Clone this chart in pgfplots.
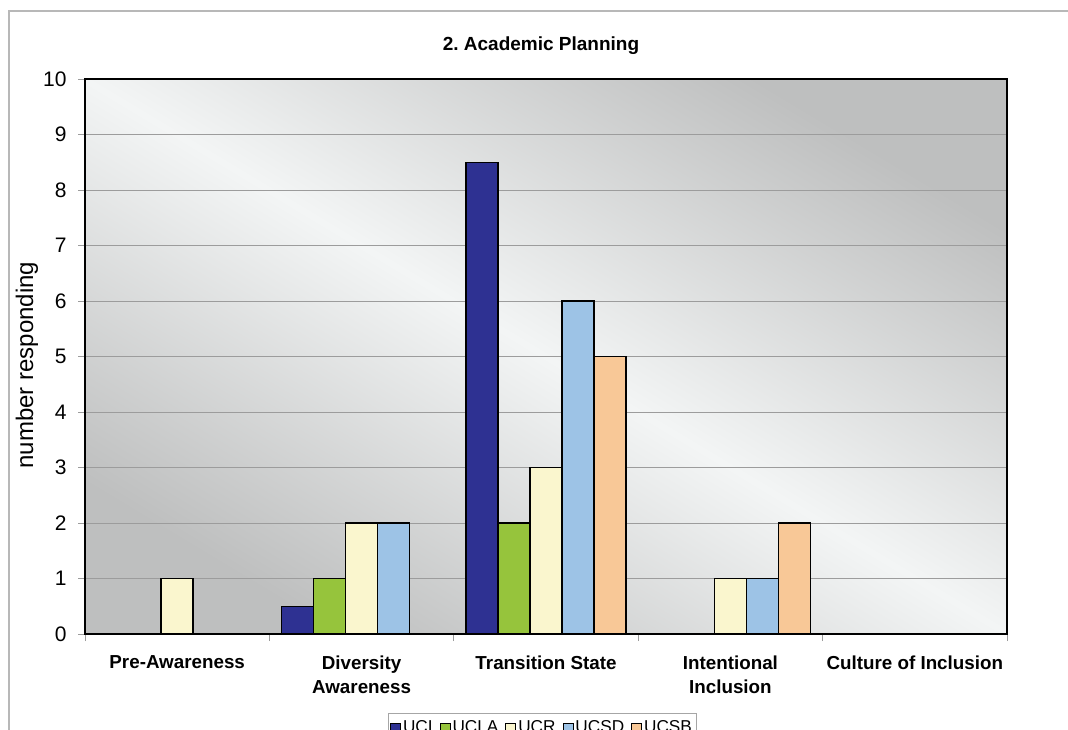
\documentclass[border=0pt]{standalone}
\usepackage{pgfplots}
\pgfplotsset{compat=1.18}
\usepackage{fontspec}
\setmainfont{Liberation Sans}
\frenchspacing
\definecolor{cUCI}{HTML}{2E3192}
\definecolor{cUCLA}{HTML}{96C43C}
\definecolor{cUCR}{HTML}{FAF6CE}
\definecolor{cUCSD}{HTML}{9DC3E6}
\definecolor{cUCSB}{HTML}{F8C897}
\definecolor{bgdark}{HTML}{BEBFBF}
\definecolor{bglight}{HTML}{F3F5F5}
\definecolor{gridc}{HTML}{9C9C9C}
\definecolor{framec}{HTML}{B8B8B8}
\begin{document}
\begin{tikzpicture}
\useasboundingbox (0pt,0pt) rectangle (1068pt,-730pt);
\clip (0pt,0pt) rectangle (1068pt,-730pt);
\fill[white] (0pt,0pt) rectangle (1068pt,-730pt);
\draw[framec, line width=1.2pt] (9pt,-800pt) -- (9pt,-11pt) -- (1100pt,-11pt);
\begin{axis}[
  at={(85pt,-634pt)}, anchor=south west,
  scale only axis, width=922pt, height=555pt,
  xmin=-0.5, xmax=4.5, ymin=0, ymax=10,
  ytick={0,...,10},
  xtick={0,...,4},
  xtick pos=bottom, ytick pos=left,
  xticklabels={Pre-Awareness,{Diversity\\Awareness},Transition State,{Intentional\\Inclusion},Culture of Inclusion},
  xticklabel style={align=center, font=\fontsize{18.8}{24}\selectfont\bfseries, yshift=-11pt},
  yticklabel style={font=\fontsize{21}{24}\selectfont, xshift=-8pt},
  /pgf/number format/assume math mode=true,
  minor xtick={-0.5,0.5,...,4.5},
  major x tick style={draw=none},
  tick align=outside,
  major tick length=7pt, minor tick length=7pt,
  every tick/.style={gridc, line width=0.8pt},
  ymajorgrids,
  grid style={gridc, line width=0.8pt},
  axis line style={black, line width=1.6pt},
  axis background/.style={shade, left color=bgdark, right color=bgdark, middle color=bglight, shading angle=149},
  ybar=0pt, bar width=32pt,
  every axis plot/.append style={draw=black, line width=1.5pt},
  title={2. Academic Planning},
  every axis title/.style={at={(axis description cs:0.5,1)}, anchor=center, yshift=33pt, xshift=-5pt, font=\fontsize{19}{22}\selectfont\bfseries},
  ylabel={number responding},
  every axis y label/.style={at={([xshift=-58pt,yshift=-8.5pt]axis description cs:0,0.5)}, rotate=90, anchor=center, font=\fontsize{24}{28}\selectfont},
  legend columns=-1,
  legend style={at={(axis description cs:0.5,0)}, anchor=north, yshift=-79pt, xshift=-4pt, draw=black!35, line width=0.8pt, font=\fontsize{17.2}{20}\selectfont, inner xsep=2pt, inner ysep=5pt, /tikz/every odd column/.append style={column sep=0pt}, /tikz/every even column/.append style={column sep=5pt}},
  legend image code/.code={\draw[#1, line width=0.9pt] (0pt,-6pt) rectangle (10pt,4pt);},
]
\addplot[fill=cUCI] coordinates {(1,0.5) (2,8.5)};
\addplot[fill=cUCLA] coordinates {(1,1) (2,2)};
\addplot[fill=cUCR] coordinates {(0,1) (1,2) (2,3) (3,1)};
\addplot[fill=cUCSD] coordinates {(1,2) (2,6) (3,1)};
\addplot[fill=cUCSB] coordinates {(2,5) (3,2)};
\legend{UCI,UCLA,UCR,UCSD,UCSB}
\end{axis}
\end{tikzpicture}
\end{document}
